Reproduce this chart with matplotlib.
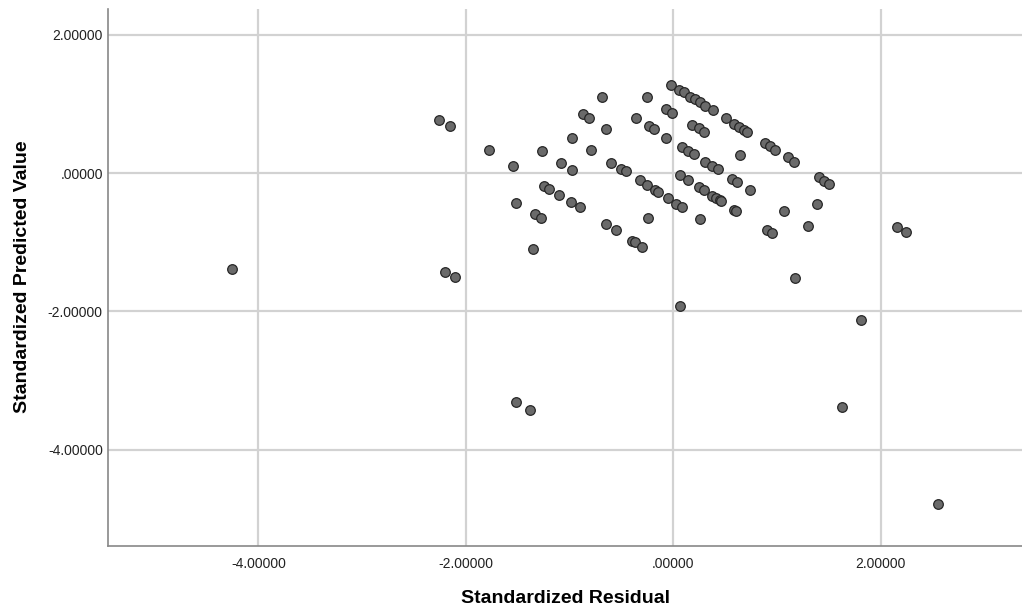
import matplotlib.pyplot as plt

# standardized residual (x) vs standardized predicted value (y)
resid = [
    -4.251, -2.255, -2.158, -2.197, -2.110, -1.782, -1.547, -1.515, -1.351, -1.332,
    -1.274, -1.264, -1.245, -1.197, -1.100, -1.081, -0.987, -0.982, -0.978, -0.905,
    -0.872, -0.814, -0.795, -0.689, -0.647, -0.647, -0.602, -0.557, -0.502, -0.461,
    -0.396, -0.374, -0.365, -0.326, -0.303, -0.255, -0.255, -0.249, -0.235, -0.191,
    -0.177, -0.152, -0.071, -0.068, -0.014, -0.056, 0.028, 0.083, 0.067,
    -0.020, 0.057, 0.098, 0.160, 0.204, 0.257, 0.308, 0.378,
    0.505, 0.582, 0.635, 0.681, 0.713,
    0.179, 0.243, 0.298,
    0.886, 0.934, 0.980, 1.101, 1.166, 0.638,
    0.083, 0.137, 0.195, 0.308, 0.372, 0.426,
    0.067, 0.141, 0.243, 0.291, 0.372, 0.414, 0.446, 0.462,
    0.565, 0.613, 0.735, 0.259, 0.587, 0.607,
    1.063, 1.385, 1.294, 0.903, 0.954, 1.400, 1.448, 1.497,
    2.156, 2.246, 1.173, 1.809, 1.622, 2.548, -1.515, -1.387,
]
pred = [
    -1.383, 0.766, 0.679, -1.426, -1.499, 0.328, 0.101, -0.429, -1.103, -0.597,
    -0.650, 0.318, -0.184, -0.227, -0.318, 0.145, -0.423, 0.510, 0.048, -0.496,
    0.848, 0.795, 0.337, 1.103, 0.636, -0.741, 0.149, -0.828, 0.053, 0.025,
    -0.978, -1.001, 0.799, -0.105, -1.069, 1.103, -0.178, -0.646, 0.679, 0.632,
    -0.246, -0.275, 0.510, 0.929, 0.871, -0.361, -0.444, -0.491, -1.922,
    1.272, 1.204, 1.166, 1.108, 1.069, 1.022, 0.973, 0.915,
    0.795, 0.715, 0.672, 0.626, 0.588,
    0.694, 0.646, 0.597,
    0.429, 0.386, 0.340, 0.227, 0.159, 0.260,
    0.380, 0.318, 0.270, 0.163, 0.105, 0.053,
    -0.033, -0.105, -0.202, -0.250, -0.328, -0.357, -0.386, -0.409,
    -0.087, -0.126, -0.246, -0.663, -0.527, -0.542,
    -0.553, -0.441, -0.770, -0.828, -0.871, -0.053, -0.111, -0.159,
    -0.776, -0.857, -1.522, -2.124, -3.386, -4.779, -3.305, -3.425,
]
xticks = [-4, -2, 0, 2]
yticks = [2, 0, -2, -4]

plt.rcParams['font.family'] = ['Liberation Sans', 'DejaVu Sans']

fig = plt.figure(figsize=(10.22, 6.09), dpi=100)
ax = fig.add_axes([0.106, 0.104, 0.894, 0.882])

ax.scatter(resid, pred, s=48, c='#6a6a6a', edgecolors='#262626', linewidths=0.9, zorder=3)

ax.set_xlim(-5.447, 3.36)
ax.set_ylim(-5.386, 2.38)
ax.set_xticks(xticks)
ax.set_yticks(yticks)
fmt = lambda v: '.00000' if v == 0 else f'{v:.5f}'
ax.set_xticklabels([fmt(v) for v in xticks])
ax.set_yticklabels([fmt(v) for v in yticks])
ax.tick_params(length=0, labelsize=10, colors='#222222', pad=8)
ax.tick_params(axis='y', pad=4)

ax.grid(True, color='#d2d2d2', linewidth=1.6)
ax.set_axisbelow(True)
for side in ['top', 'right']:
    ax.spines[side].set_visible(False)
for side in ['left', 'bottom']:
    ax.spines[side].set_color('#888888')
    ax.spines[side].set_linewidth(1.2)

ax.set_xlabel('Standardized Residual', fontsize=14, fontweight='bold', labelpad=14)
ax.set_ylabel('Standardized Predicted Value', fontsize=14, fontweight='bold', labelpad=12)

fig.savefig('out.png', dpi=100)
